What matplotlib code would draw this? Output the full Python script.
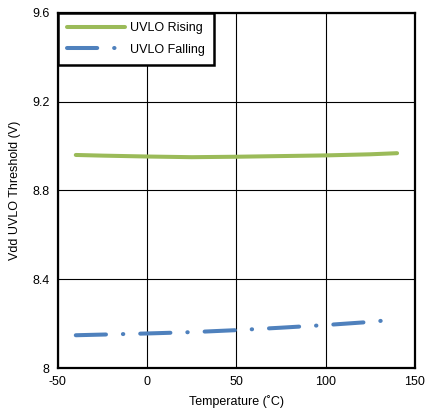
import numpy as np
import matplotlib
matplotlib.use("Agg")
import matplotlib.pyplot as plt

plt.rcParams['font.family'] = ['Liberation Sans', 'DejaVu Sans']
plt.rcParams['axes.unicode_minus'] = False

# Data
temp = [-40, -25, 0, 25, 50, 75, 100, 125, 140]
uvlo_rising = [8.960, 8.957, 8.953, 8.950, 8.952, 8.955, 8.958, 8.963, 8.968]
uvlo_falling = [8.148, 8.151, 8.156, 8.162, 8.171, 8.182, 8.194, 8.208, 8.220]

x_ticks = [-50, 0, 50, 100, 150]
y_ticks = [8.0, 8.4, 8.8, 9.2, 9.6]
y_tick_labels = ["8", "8.4", "8.8", "9.2", "9.6"]

fig = plt.figure(figsize=(4.26, 4.15), dpi=100)
ax = fig.add_axes([0.136, 0.113, 0.838, 0.856])

ax.plot(temp, uvlo_rising, color="#9BBB59", linewidth=2.9,
        solid_capstyle="round", label="UVLO Rising")
ax.plot(temp, uvlo_falling, color="#4F81BD", linewidth=2.9,
        dashes=(7.5, 4.2, 0.1, 4.2), dash_capstyle="round", label="UVLO Falling")

ax.set_xlim(-50, 150)
ax.set_ylim(8.0, 9.6)
ax.set_xticks(x_ticks)
ax.set_yticks(y_ticks)
ax.set_yticklabels(y_tick_labels)
ax.tick_params(length=0, labelsize=9, pad=6)
ax.grid(True, color="black", linewidth=0.8)
ax.set_axisbelow(True)
for s in ax.spines.values():
    s.set_linewidth(1.6)

ax.set_xlabel("Temperature (˚C)", fontsize=9, labelpad=5)
ax.set_ylabel("Vdd UVLO Threshold (V)", fontsize=9, labelpad=8)

leg = ax.legend(loc="upper left", borderaxespad=0, fancybox=False,
                edgecolor="black", framealpha=1, fontsize=9,
                handlelength=4.6, borderpad=0.75, labelspacing=0.75,
                handletextpad=0.4)
leg.get_frame().set_linewidth(1.8)

fig.savefig("out.png", dpi=100)
